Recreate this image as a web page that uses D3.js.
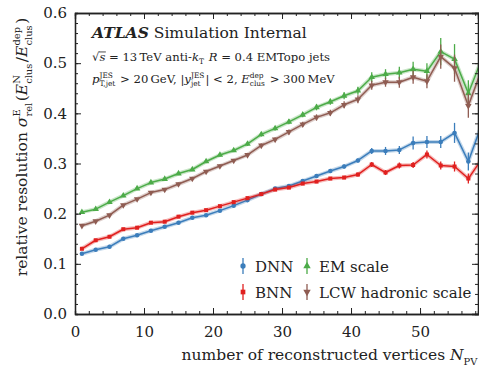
<!DOCTYPE html>
<html>
<head>
<meta charset="utf-8">
<script src="https://cdn.jsdelivr.net/npm/d3@7"></script>
<style>
  body { margin: 0; background: #fff; }
  svg { display: block; }
  text { font-family: "DejaVu Serif", serif; fill: #222; }
</style>
</head>
<body>
<div id="figure"></div>
<script>
const width = 479,
      height = 367;
const plotLeft = 75, plotRight = 478, plotTop = 13, plotBottom = 314;

// Data (bins of two vertices, centres at odd values).
const npv = [1, 3, 5, 7, 9, 11, 13, 15, 17, 19, 21, 23, 25, 27, 29,
             31, 33, 35, 37, 39, 41, 43, 45, 47, 49, 51, 53, 55, 57, 59];
const dnn = [0.120, 0.128, 0.134, 0.150, 0.157, 0.166, 0.174, 0.182, 0.192, 0.197,
             0.206, 0.216, 0.227, 0.239, 0.250, 0.255, 0.265, 0.275, 0.285, 0.294,
             0.306, 0.325, 0.325, 0.327, 0.341, 0.343, 0.343, 0.361, 0.304, 0.380];
const bnn = [0.130, 0.147, 0.154, 0.169, 0.172, 0.182, 0.184, 0.194, 0.202, 0.207,
             0.215, 0.223, 0.231, 0.239, 0.248, 0.252, 0.260, 0.264, 0.270, 0.272,
             0.278, 0.298, 0.282, 0.296, 0.297, 0.318, 0.296, 0.294, 0.270, 0.310];
const em  = [0.203, 0.209, 0.223, 0.236, 0.250, 0.262, 0.269, 0.280, 0.288, 0.304,
             0.317, 0.326, 0.339, 0.358, 0.370, 0.383, 0.397, 0.412, 0.423, 0.435,
             0.445, 0.472, 0.478, 0.481, 0.488, 0.484, 0.523, 0.508, 0.440, 0.510];
const lcw = [0.176, 0.185, 0.197, 0.217, 0.229, 0.242, 0.248, 0.259, 0.270, 0.284,
             0.295, 0.306, 0.317, 0.336, 0.348, 0.363, 0.378, 0.392, 0.401, 0.417,
             0.428, 0.456, 0.462, 0.462, 0.472, 0.464, 0.513, 0.490, 0.415, 0.490];
const dnnErr = [0.001, 0.001, 0.001, 0.001, 0.001, 0.001, 0.001, 0.001, 0.002, 0.002,
                0.002, 0.002, 0.002, 0.002, 0.002, 0.003, 0.003, 0.003, 0.003, 0.004,
                0.004, 0.006, 0.008, 0.008, 0.013, 0.012, 0.012, 0.020, 0.018, 0.020];
const bnnErr = [0.001, 0.001, 0.001, 0.001, 0.001, 0.001, 0.001, 0.001, 0.002, 0.002,
                0.002, 0.002, 0.002, 0.002, 0.002, 0.002, 0.003, 0.003, 0.003, 0.003,
                0.004, 0.005, 0.005, 0.006, 0.006, 0.008, 0.008, 0.010, 0.010, 0.012];
const emErr  = [0.002, 0.002, 0.002, 0.002, 0.002, 0.002, 0.002, 0.003, 0.003, 0.003,
                0.003, 0.003, 0.004, 0.004, 0.004, 0.005, 0.005, 0.006, 0.006, 0.007,
                0.008, 0.010, 0.010, 0.012, 0.015, 0.016, 0.027, 0.030, 0.026, 0.030];
const lcwErr = [0.002, 0.002, 0.002, 0.002, 0.002, 0.002, 0.002, 0.003, 0.003, 0.003,
                0.003, 0.003, 0.004, 0.004, 0.004, 0.005, 0.005, 0.006, 0.006, 0.007,
                0.008, 0.009, 0.009, 0.011, 0.013, 0.014, 0.024, 0.027, 0.024, 0.027];

const xTicks = [0, 10, 20, 30, 40, 50];
const yTicks = [0.0, 0.1, 0.2, 0.3, 0.4, 0.5, 0.6];

const series = [
  {name: "DNN", values: dnn, err: dnnErr, color: "#3b7dbb", symbol: d3.symbolCircle, size: 16, rot: 0},
  {name: "BNN", values: bnn, err: bnnErr, color: "#e0201f", symbol: d3.symbolSquare, size: 16, rot: 0},
  {name: "EM scale", values: em, err: emErr, color: "#4cab48", symbol: d3.symbolTriangle, size: 18, rot: 0},
  {name: "LCW hadronic scale", values: lcw, err: lcwErr, color: "#8f5c52", symbol: d3.symbolTriangle, size: 18, rot: 180}
];

const svg = d3.select("#figure").append("svg")
    .attr("width", width)
    .attr("height", height);

const x = d3.scaleLinear().domain([0, 58.4]).range([plotLeft, plotRight]);
const y = d3.scaleLinear().domain([0, 0.6]).range([plotBottom, plotTop]);

// Small helper for text with sub/superscripts, measured piece by piece.
function richText(parent, px, py, parts, fs, anchor) {
  const g = parent.append("g");
  let cx = 0;
  parts.forEach(p => {
    if (typeof p === "string") p = {t: p};
    if (p.sub !== undefined || p.sup !== undefined) {
      let w = 0;
      if (p.sup) {
        const t = g.append("text").attr("x", cx).attr("y", -0.44 * fs)
            .attr("font-size", 0.64 * fs).text(p.sup);
        w = Math.max(w, t.node().getComputedTextLength());
      }
      if (p.sub) {
        const t = g.append("text").attr("x", cx).attr("y", 0.3 * fs)
            .attr("font-size", 0.64 * fs).text(p.sub);
        w = Math.max(w, t.node().getComputedTextLength());
      }
      cx += w + 0.1 * fs;
    } else {
      const t = g.append("text").attr("x", cx).attr("y", 0)
          .attr("font-size", fs)
          .attr("font-style", p.i ? "italic" : null)
          .attr("font-weight", p.b ? "bold" : null)
          .text(p.t);
      const w = t.node().getComputedTextLength();
      if (p.over) {
        g.append("line").attr("x1", cx - 0.5).attr("x2", cx + w + 0.5)
            .attr("y1", -0.78 * fs).attr("y2", -0.78 * fs)
            .attr("stroke", "#222").attr("stroke-width", 0.8);
      }
      cx += w;
    }
  });
  const shift = anchor === "middle" ? -cx / 2 : anchor === "end" ? -cx : 0;
  g.attr("transform", `translate(${px + shift},${py})`);
  return g;
}

// Plot contents, clipped to the frame.
svg.append("clipPath").attr("id", "clip")
  .append("rect").attr("x", plotLeft).attr("y", plotTop)
  .attr("width", plotRight - plotLeft).attr("height", plotBottom - plotTop);

const plot = svg.append("g").attr("clip-path", "url(#clip)");

series.forEach(s => {
  const pts = npv.map((n, i) => ({x: n, y: s.values[i], e: s.err[i]}));
  const line = d3.line().x(d => x(d.x)).y(d => y(d.y));

  plot.append("path").datum(pts)
      .attr("d", line).attr("fill", "none")
      .attr("stroke", s.color).attr("stroke-opacity", 0.3)
      .attr("stroke-width", 4).attr("stroke-linejoin", "round");
  plot.append("path").datum(pts)
      .attr("d", line).attr("fill", "none")
      .attr("stroke", s.color).attr("stroke-width", 1.5)
      .attr("stroke-linejoin", "round");

  plot.append("g").selectAll("line").data(pts).join("line")
      .attr("x1", d => x(d.x)).attr("x2", d => x(d.x))
      .attr("y1", d => y(d.y - d.e)).attr("y2", d => y(d.y + d.e))
      .attr("stroke", s.color).attr("stroke-width", 1.3);

  plot.append("g").selectAll("path").data(pts).join("path")
      .attr("d", d3.symbol(s.symbol, s.size))
      .attr("transform", d => `translate(${x(d.x)},${y(d.y)}) rotate(${s.rot})`)
      .attr("fill", s.color);
});

// Axes: ticks pointing inwards on all four sides.
const xMinor = d3.range(0, 59, 2);
const yMinor = d3.range(0, 0.601, 0.02);

function styleAxis(g) {
  g.selectAll("line").attr("stroke", "#222").attr("stroke-width", 1);
  g.select(".domain").attr("stroke", "#222").attr("stroke-width", 1.3);
  g.selectAll("text").attr("font-size", 15).attr("fill", "#222")
      .attr("font-family", "DejaVu Serif, serif");
}

svg.append("g").attr("transform", `translate(0,${plotBottom})`)
    .call(d3.axisBottom(x).tickValues(xMinor).tickSize(-3).tickFormat(""))
    .call(styleAxis);
svg.append("g").attr("transform", `translate(0,${plotBottom})`)
    .call(d3.axisBottom(x).tickValues(xTicks).tickSizeInner(-6).tickSizeOuter(0).tickPadding(12))
    .call(styleAxis);
svg.append("g").attr("transform", `translate(0,${plotTop})`)
    .call(d3.axisTop(x).tickValues(xMinor).tickSize(-3).tickFormat(""))
    .call(styleAxis);
svg.append("g").attr("transform", `translate(0,${plotTop})`)
    .call(d3.axisTop(x).tickValues(xTicks).tickSize(-6).tickFormat(""))
    .call(styleAxis);

svg.append("g").attr("transform", `translate(${plotLeft},0)`)
    .call(d3.axisLeft(y).tickValues(yMinor).tickSize(-3).tickFormat(""))
    .call(styleAxis);
svg.append("g").attr("transform", `translate(${plotLeft},0)`)
    .call(d3.axisLeft(y).tickValues(yTicks).tickSizeInner(-6).tickSizeOuter(0)
        .tickPadding(8).tickFormat(d3.format(".1f")))
    .call(styleAxis);
svg.append("g").attr("transform", `translate(${plotRight},0)`)
    .call(d3.axisRight(y).tickValues(yMinor).tickSize(-3).tickFormat(""))
    .call(styleAxis);
svg.append("g").attr("transform", `translate(${plotRight},0)`)
    .call(d3.axisRight(y).tickValues(yTicks).tickSize(-6).tickFormat(""))
    .call(styleAxis);

// Axis titles.
richText(svg, 479, 360, [
  "number of reconstructed vertices\u00a0", {t: "N", i: true}, {sub: "PV"}
], 15.5, "end");

const ylab = svg.append("g").attr("transform", "translate(27,147) rotate(-90)");
richText(ylab, 0, 0, [
  "relative resolution\u00a0", {t: "\u03c3", i: true}, {sup: "E", sub: "rel"},
  "(", {t: "E", i: true}, {sup: "N", sub: "clus"}, "/", {t: "E", i: true},
  {sup: "dep", sub: "clus"}, ")"
], 15.5, "middle");

// Header text.
richText(svg, 92, 38, [{t: "ATLAS", b: true, i: true}, "\u00a0Simulation Internal"], 15.5, "start");
richText(svg, 92, 61, [
  "\u221a", {t: "s", i: true, over: true}, "\u00a0=\u00a013\u2009TeV anti-", {t: "k", i: true},
  {sub: "T"}, "\u00a0", {t: "R", i: true}, "\u00a0=\u00a00.4 EMTopo jets"
], 11.6, "start");
richText(svg, 92, 83, [
  {t: "p", i: true}, {sup: "JES", sub: "T,jet"}, "\u00a0>\u00a020\u2009GeV, |", {t: "y", i: true},
  {sup: "JES", sub: "jet"}, "|\u00a0<\u00a02,\u00a0", {t: "E", i: true}, {sup: "dep", sub: "clus"},
  "\u00a0>\u00a0300\u2009MeV"
], 11.6, "start");

// Legend.
const legendPos = [[243, 266], [243, 292], [307, 266], [307, 292]];
series.forEach((s, i) => {
  const [lx, ly] = legendPos[i];
  const lg = svg.append("g");
  lg.append("line").attr("x1", lx).attr("x2", lx)
      .attr("y1", ly - 8).attr("y2", ly + 8)
      .attr("stroke", s.color).attr("stroke-width", 1.3);
  lg.append("path").attr("d", d3.symbol(s.symbol, s.size + 6))
      .attr("transform", `translate(${lx},${ly}) rotate(${s.rot})`)
      .attr("fill", s.color);
  lg.append("text").attr("x", lx + 12).attr("y", ly + 5.5)
      .attr("font-size", 15).text(s.name);
});
</script>
</body>
</html>
